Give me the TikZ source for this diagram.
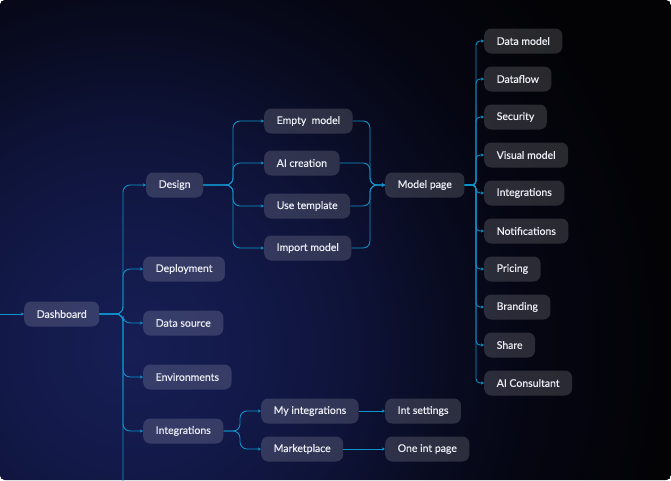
\documentclass[tikz,border=0pt]{standalone}
\usepackage{fontspec}
\setmainfont{Lato}
\newfontfamily\boxfont{Lato}[FakeBold=0.3]
\usepackage{xcolor}
\usetikzlibrary{arrows.meta,positioning}

\definecolor{bgnavy}{RGB}{22,30,84}
\definecolor{bgmid}{RGB}{19,26,74}
\definecolor{bgsoft}{RGB}{14,19,56}
\definecolor{bgdeep}{RGB}{9,12,34}
\definecolor{bgdark}{RGB}{5,6,18}
\definecolor{bgblack}{RGB}{3,3,6}
\definecolor{linkblue}{RGB}{14,148,205}
\definecolor{boxtext}{RGB}{236,238,245}
\pgfdeclareradialshading{bgglow}{\pgfpoint{0bp}{0bp}}{color(0bp)=(bgnavy); color(5bp)=(bgmid); color(10bp)=(bgsoft); color(14bp)=(bgdeep); color(18bp)=(bgdark); color(24bp)=(bgblack); color(50bp)=(bgblack)}

\begin{document}
\begin{tikzpicture}[
    x=1pt, y=-1pt,
    box/.style={rounded corners=7pt, fill=white, fill opacity=0.15, text opacity=1, text=boxtext, minimum height=25pt, inner xsep=12.5pt, anchor=west, font=\boxfont\fontsize{10.5}{12}\selectfont},
    link/.style={draw=linkblue, line width=0.85pt, rounded corners=7pt},
    arrow/.style={link, -{Stealth[length=3.2pt, width=3.2pt]}}
]
    % Background
    \useasboundingbox (0,0) rectangle (671,480);
    \fill[white] (0,0) rectangle (671,480);
    \begin{scope}
        \clip[rounded corners=5pt] (0,0) rectangle (671,480);
        \fill[bgblack] (0,0) rectangle (671,480);
        \shade[shading=bgglow] (130,350) circle (560);
    \end{scope}

    % Dashboard
    \node[box] (dash) at (24,314) {Dashboard};

    % First level
    \node[box] (design) at (146,185) {Design};
    \node[box] (deploy) at (143,269) {Deployment};
    \node[box] (dsource) at (143,323) {Data source};
    \node[box] (envs) at (143,377) {Environments};
    \node[box] (integ) at (143,431) {Integrations};

    % Design options
    \node[box] (empty) at (264,121) {Empty\ \ model};
    \node[box] (aicreate) at (264,163) {AI creation};
    \node[box] (usetpl) at (264,206) {Use template};
    \node[box] (importm) at (264,248) {Import model};

    % Model page
    \node[box] (mpage) at (385,185) {Model page};

    % Model page sections
    \node[box] (rdata) at (484,41) {Data model};
    \node[box] (rflow) at (484,79) {Dataflow};
    \node[box] (rsec) at (484,117) {Security};
    \node[box] (rvis) at (484,155) {Visual model};
    \node[box] (rint) at (484,193) {Integrations};
    \node[box] (rnote) at (484,231) {Notifications};
    \node[box] (rprice) at (484,269) {Pricing};
    \node[box] (rbrand) at (484,307) {Branding};
    \node[box] (rshare) at (484,345) {Share};
    \node[box] (rai) at (484,383) {AI Consultant};

    % Integrations
    \node[box] (myint) at (261,411) {My integrations};
    \node[box] (market) at (261,449) {Marketplace};
    \node[box] (intset) at (385,411) {Int settings};
    \node[box] (oneint) at (385,449) {One int page};

    % Trunks
    \coordinate (dshin) at (-5,314);
    \coordinate (dshtrunk) at (123,314);
    \coordinate (dshend) at (123,490);
    \coordinate (dgtrunk) at (233,185);
    \coordinate (mptrunk) at (370,185);
    \coordinate (mrtrunk) at (476,185);
    \coordinate (intrunk) at (240,431);

    % Arrows from Dashboard
    \draw[arrow] (dshin) -- (dash.west);
    \draw[link] (dash.east) -- (dshtrunk) -- (dshend);
    \draw[arrow] (dash.east) -- (dshtrunk) |- (design.west);
    \draw[arrow] (dash.east) -- (dshtrunk) |- (deploy.west);
    \draw[arrow] (dash.east) -- (dshtrunk) |- (dsource.west);
    \draw[arrow] (dash.east) -- (dshtrunk) |- (envs.west);
    \draw[arrow] (dash.east) -- (dshtrunk) |- (integ.west);

    % Arrows from Design
    \draw[arrow] (design.east) -- (dgtrunk) |- (empty.west);
    \draw[arrow] (design.east) -- (dgtrunk) |- (aicreate.west);
    \draw[arrow] (design.east) -- (dgtrunk) |- (usetpl.west);
    \draw[arrow] (design.east) -- (dgtrunk) |- (importm.west);

    % Into Model page
    \draw[arrow] (empty.east) -| (mptrunk) -- (mpage.west);
    \draw[arrow] (aicreate.east) -| (mptrunk) -- (mpage.west);
    \draw[arrow] (usetpl.east) -| (mptrunk) -- (mpage.west);
    \draw[arrow] (importm.east) -| (mptrunk) -- (mpage.west);

    % Arrows from Model page
    \draw[arrow, rounded corners=4pt] (mpage.east) -- (mrtrunk) |- (rdata.west);
    \draw[arrow, rounded corners=4pt] (mpage.east) -- (mrtrunk) |- (rflow.west);
    \draw[arrow, rounded corners=4pt] (mpage.east) -- (mrtrunk) |- (rsec.west);
    \draw[arrow, rounded corners=4pt] (mpage.east) -- (mrtrunk) |- (rvis.west);
    \draw[arrow, rounded corners=4pt] (mpage.east) -- (mrtrunk) |- (rint.west);
    \draw[arrow, rounded corners=4pt] (mpage.east) -- (mrtrunk) |- (rnote.west);
    \draw[arrow, rounded corners=4pt] (mpage.east) -- (mrtrunk) |- (rprice.west);
    \draw[arrow, rounded corners=4pt] (mpage.east) -- (mrtrunk) |- (rbrand.west);
    \draw[arrow, rounded corners=4pt] (mpage.east) -- (mrtrunk) |- (rshare.west);
    \draw[arrow, rounded corners=4pt] (mpage.east) -- (mrtrunk) |- (rai.west);

    % Arrows from Integrations
    \draw[arrow] (integ.east) -- (intrunk) |- (myint.west);
    \draw[arrow] (integ.east) -- (intrunk) |- (market.west);
    \draw[arrow] (myint) -- (intset);
    \draw[arrow] (market) -- (oneint);
\end{tikzpicture}
\end{document}
